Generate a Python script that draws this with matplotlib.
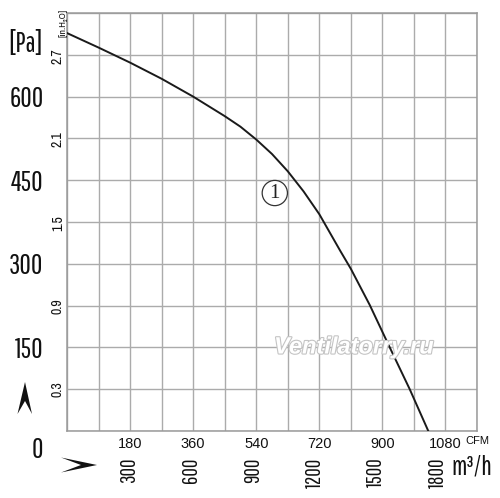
import matplotlib
matplotlib.use("Agg")
import matplotlib.pyplot as plt
import matplotlib.patheffects as pe
from matplotlib.patches import Polygon
import numpy as np

# fan curve (airflow in CFM, static pressure in Pa)
flow_cfm = [0, 90, 180, 270, 360, 450, 495, 540, 585, 630, 675, 720, 780, 810, 864, 921, 978, 1031]
pressure_pa = [714, 688, 661, 632, 600, 565, 546, 523, 497, 466, 430, 389, 323, 291, 226, 150, 75, 0]

cfm_ticks = [180, 360, 540, 720, 900, 1080]
m3h_ticks = [300, 600, 900, 1200, 1500, 1800]
pa_ticks = [150, 300, 450, 600]
inh2o_ticks = [0.3, 0.9, 1.5, 2.1, 2.7]

W, H = 500, 498
narrow = ["Pathway Gothic One", "Archivo Narrow", "Liberation Sans", "DejaVu Sans"]
semi = ["Archivo Narrow", "Liberation Sans", "DejaVu Sans"]
plain = ["Liberation Sans", "DejaVu Sans"]
ink = "#111111"


def fxy(px, py):
    return px / W, 1 - py / H


fig = plt.figure(figsize=(W / 100, H / 100), dpi=100)
ax = fig.add_axes([67 / W, 1 - 431 / H, 410 / W, 418 / H])
ax.set_xlim(0, 1170)
ax.set_ylim(0, 750)

ax.set_xticks(cfm_ticks)
ax.set_xticks(np.arange(0, 1171, 90), minor=True)
ax.set_yticks(pa_ticks)
ax.set_yticks(np.arange(0, 751, 75), minor=True)
ax.grid(True, which="both", color="#ababab", lw=1.0)
ax.set_axisbelow(True)
for s in ax.spines.values():
    s.set_color("#9a9a9a")
    s.set_linewidth(1.1)
ax.tick_params(which="both", length=0)
ax.tick_params(axis="x", pad=4.5, labelsize=10.5)
ax.tick_params(axis="y", pad=17, labelsize=20)
for lab in ax.get_xticklabels():
    lab.set_family(plain)
    lab.set_color(ink)
for lab in ax.get_yticklabels():
    lab.set_family(narrow)
    lab.set_color(ink)

ax.plot(flow_cfm, pressure_pa, color="#1a1a1a", lw=1.4, zorder=3)

# secondary scales: m3/h under the CFM scale, inH2O next to the Pa scale
sx = ax.secondary_xaxis(0, functions=(lambda c: c * 1.699, lambda m: m / 1.699))
sx.set_xticks(m3h_ticks)
sx.spines["bottom"].set_visible(False)
sx.tick_params(length=0, pad=19, labelsize=15, labelrotation=90)
for lab in sx.get_xticklabels():
    lab.set_family(narrow)
    lab.set_color(ink)

sy = ax.secondary_yaxis(0, functions=(lambda p: p / 249.09, lambda i: i * 249.09))
sy.set_yticks(inh2o_ticks)
sy.spines["left"].set_visible(False)
sy.tick_params(length=0, pad=1.5, labelsize=10, labelrotation=90)
for lab in sy.get_yticklabels():
    lab.set_family(semi)
    lab.set_color(ink)
    lab.set_verticalalignment("center")

# extra labels
fig.text(*fxy(43, 44), "[Pa]", ha="right", va="center", fontsize=20, family=narrow, color=ink)
fig.text(*fxy(43, 450), "0", ha="right", va="center", fontsize=20, family=narrow, color=ink)
fig.text(*fxy(63, 23), "[in.H\u2082O]", ha="center", va="center", rotation=90, fontsize=7,
         family=semi, color=ink)
fig.text(*fxy(477, 441), "CFM", ha="center", va="center", fontsize=8, family=plain, color=ink)
fig.text(*fxy(472, 467), "m\u00b3/h", ha="center", va="center", fontsize=19, family=narrow,
         color=ink)

ax.text(593, 427, "1", ha="center", va="center", fontsize=15, family="Liberation Serif",
        color="#222222", zorder=4,
        bbox=dict(boxstyle="circle,pad=0.15", fc="white", ec="#333333", lw=0.9))

fig.text(*fxy(354, 347), "Ventilatorry.ru", ha="center", va="center", fontsize=17,
         family=plain, style="italic", weight="bold", color="white", zorder=5,
         path_effects=[pe.withStroke(linewidth=1.6, foreground="#c4c4c4")])

# direction arrows
up = [fxy(25, 382), fxy(17.5, 414), fxy(25, 401), fxy(32, 414)]
right = [fxy(97, 465), fxy(61, 457.5), fxy(81, 465), fxy(61, 472.5)]
for pts in (up, right):
    fig.patches.append(Polygon(pts, closed=True, transform=fig.transFigure,
                               fc=ink, ec="none"))

fig.savefig("out.png", dpi=100)
